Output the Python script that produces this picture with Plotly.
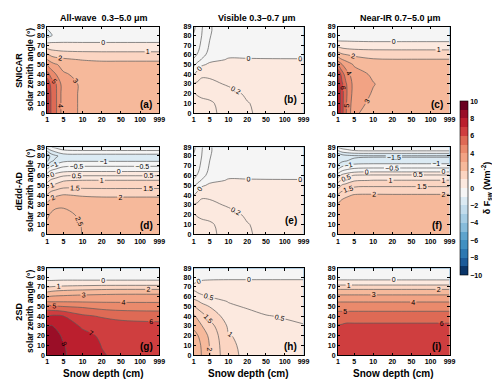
import numpy as np
import plotly.graph_objects as go

# grid the fluxes were read on
depth = [1, 2, 3, 5, 10, 20, 50, 999]          # snow depth (cm)
sza = [0, 10, 20, 30, 40, 50, 55, 60, 65, 70, 75, 80, 85, 89]  # solar zenith angle (deg)

# x axis is a stretched index scale: tick depths and where they sit on it
tick_depth = [1, 5, 10, 20, 50, 100, 999]
tick_pos = [0, 0.85, 1.85, 2.85, 3.85, 4.85, 5.85]
sza_ticks = [0, 10, 20, 30, 40, 50, 60, 70, 80, 89]

col_titles = ["All-wave  0.3\u20135.0 \u03bcm", "Visible 0.3\u20130.7 \u03bcm", "Near-IR 0.7\u20135.0 \u03bcm"]
row_names = ["SNICAR", "dEdd-AD", "2SD"]
panel_tags = ["(a)", "(b)", "(c)", "(d)", "(e)", "(f)", "(g)", "(h)", "(i)"]

# delta F_sw (W m-2); rows follow sza, columns follow depth
snicar_all = [
    [7.6, 5.9, 5.3, 3.43, 2.85, 2.6, 2.6, 2.6],
    [7.6, 5.9, 5.3, 3.43, 2.85, 2.6, 2.6, 2.6],
    [7.3, 5.9, 5.3, 3.43, 2.85, 2.6, 2.6, 2.6],
    [6.8, 5.7, 5.2, 3.45, 2.85, 2.6, 2.6, 2.6],
    [5.5, 4.6, 4.1, 3.1, 2.75, 2.6, 2.6, 2.6],
    [3.9, 3.4, 3.1, 2.75, 2.5, 2.35, 2.35, 2.35],
    [3.05, 2.6, 2.4, 2.2, 1.95, 1.85, 1.85, 1.85],
    [2.2, 1.8, 1.6, 1.5, 1.4, 1.35, 1.35, 1.35],
    [1.2, 1.02, 0.95, 0.85, 0.8, 0.8, 0.8, 0.8],
    [0.5, 0.35, 0.3, 0.27, 0.25, 0.25, 0.25, 0.25],
    [-0.6, -0.3, -0.25, -0.2, -0.2, -0.2, -0.2, -0.2],
    [-1.3, -1.1, -0.7, -0.55, -0.5, -0.5, -0.5, -0.5],
    [-1.1, -0.85, -0.7, -0.65, -0.65, -0.65, -0.65, -0.65],
    [-0.8, -0.75, -0.7, -0.7, -0.7, -0.7, -0.7, -0.7],
]
snicar_vis = [
    [0.55, 0.51, 0.48, 0.45, 0.32, 0.225, 0.14, 0.12],
    [0.5, 0.47, 0.45, 0.43, 0.31, 0.21, 0.14, 0.12],
    [0.41, 0.38, 0.36, 0.34, 0.27, 0.17, 0.12, 0.1],
    [0.21, 0.24, 0.25, 0.25, 0.176, 0.13, 0.1, 0.09],
    [-0.01, 0.08, 0.17, 0.16, 0.13, 0.1, 0.075, 0.07],
    [-0.25, -0.12, -0.03, 0.03, 0.04, 0.04, 0.035, 0.03],
    [-0.38, -0.28, -0.18, -0.04, 0.01, 0.008, 0.006, 0.005],
    [-0.45, -0.38, -0.28, -0.12, -0.02, -0.02, -0.02, -0.02],
    [-0.5, -0.43, -0.33, -0.16, -0.035, -0.04, -0.04, -0.04],
    [-0.53, -0.46, -0.36, -0.18, -0.05, -0.05, -0.05, -0.05],
    [-0.56, -0.48, -0.38, -0.2, -0.05, -0.05, -0.05, -0.05],
    [-0.58, -0.5, -0.4, -0.21, -0.05, -0.05, -0.05, -0.05],
    [-0.62, -0.52, -0.41, -0.22, -0.05, -0.05, -0.05, -0.05],
    [-0.64, -0.53, -0.42, -0.22, -0.05, -0.05, -0.05, -0.05],
]
snicar_nir = [
    [7.9, 6.35, 5.05, 3.11, 2.7, 2.65, 2.65, 2.65],
    [7.9, 6.4, 5.1, 3.3, 2.8, 2.65, 2.65, 2.65],
    [7.9, 6.4, 5.2, 3.5, 2.92, 2.65, 2.65, 2.65],
    [7.7, 6.2, 5.1, 3.6, 3.04, 2.65, 2.65, 2.65],
    [7.05, 5.5, 4.5, 3.4, 2.85, 2.65, 2.65, 2.65],
    [5.05, 4.05, 3.5, 2.9, 2.45, 2.4, 2.4, 2.4],
    [3.6, 3.05, 2.8, 2.5, 2.1, 2.05, 2.05, 2.05],
    [2.6, 2.2, 2.05, 1.8, 1.6, 1.55, 1.55, 1.55],
    [1.6, 1.3, 1.2, 1.1, 1.03, 1.02, 1.02, 1.02],
    [0.7, 0.55, 0.5, 0.45, 0.4, 0.4, 0.4, 0.4],
    [-0.1, -0.1, -0.1, -0.12, -0.15, -0.15, -0.15, -0.15],
    [-0.5, -0.45, -0.45, -0.45, -0.45, -0.45, -0.45, -0.45],
    [-0.55, -0.55, -0.55, -0.55, -0.55, -0.55, -0.55, -0.55],
    [-0.6, -0.6, -0.6, -0.6, -0.6, -0.6, -0.6, -0.6],
]
dedd_all = [
    [2.62, 2.62, 2.61, 2.6, 2.495, 2.42, 2.4, 2.4],
    [2.56, 2.6, 2.6, 2.59, 2.49, 2.42, 2.4, 2.4],
    [2.44, 2.55, 2.57, 2.56, 2.46, 2.41, 2.4, 2.4],
    [2.15, 2.35, 2.45, 2.47, 2.38, 2.34, 2.33, 2.33],
    [1.55, 1.8, 1.92, 2.03, 1.95, 1.92, 1.92, 1.92],
    [0.75, 1.02, 1.1, 1.3, 1.3, 1.3, 1.3, 1.3],
    [0.3, 0.6, 0.7, 0.95, 1.02, 1.02, 1.02, 1.02],
    [-0.25, 0.1, 0.25, 0.45, 0.48, 0.48, 0.48, 0.48],
    [-0.8, -0.45, -0.35, -0.15, -0.1, -0.1, -0.1, -0.1],
    [-1.4, -1.02, -0.85, -0.6, -0.55, -0.55, -0.55, -0.55],
    [-2.1, -1.6, -1.4, -1.1, -1.05, -1.05, -1.05, -1.05],
    [-2.4, -1.8, -1.6, -1.3, -1.25, -1.25, -1.25, -1.25],
    [-1.5, -1.1, -0.9, -0.6, -0.55, -0.55, -0.55, -0.55],
    [-0.8, -0.52, -0.4, -0.25, -0.2, -0.2, -0.2, -0.2],
]
dedd_vis = snicar_vis  # panel (e) reads the same as (b)
dedd_nir = [
    [2.42, 2.45, 2.45, 2.45, 2.42, 2.4, 2.4, 2.4],
    [2.42, 2.45, 2.45, 2.45, 2.42, 2.4, 2.4, 2.4],
    [2.35, 2.42, 2.44, 2.44, 2.41, 2.4, 2.4, 2.4],
    [2.08, 2.25, 2.32, 2.38, 2.36, 2.35, 2.35, 2.35],
    [1.55, 1.8, 1.9, 2.04, 2.06, 2.05, 2.05, 2.05],
    [0.75, 1.05, 1.15, 1.38, 1.42, 1.42, 1.42, 1.42],
    [0.3, 0.6, 0.7, 0.95, 1.02, 1.02, 1.02, 1.02],
    [-0.2, 0.15, 0.3, 0.55, 0.6, 0.6, 0.6, 0.6],
    [-0.85, -0.52, -0.4, -0.25, -0.2, -0.2, -0.2, -0.2],
    [-1.4, -1.1, -0.95, -0.8, -0.75, -0.75, -0.75, -0.75],
    [-1.9, -1.6, -1.52, -1.4, -1.35, -1.35, -1.35, -1.35],
    [-1.95, -1.75, -1.65, -1.58, -1.55, -1.55, -1.55, -1.55],
    [-1.1, -0.8, -0.7, -0.55, -0.52, -0.52, -0.52, -0.52],
    [-0.45, -0.3, -0.25, -0.18, -0.15, -0.15, -0.15, -0.15],
]
tsd_all = [
    [8.9, 8.8, 8.6, 8.1, 7.5, 7.05, 6.85, 6.7],
    [8.8, 8.7, 8.5, 8.05, 7.4, 6.98, 6.8, 6.7],
    [8.6, 8.5, 8.3, 7.85, 7.2, 6.9, 6.75, 6.65],
    [7.95, 8.05, 7.9, 7.4, 6.9, 6.6, 6.4, 6.3],
    [6.95, 7.15, 7.2, 7.02, 6.2, 5.9, 5.7, 5.6],
    [5.4, 5.2, 5.1, 4.98, 4.85, 4.6, 4.5, 4.45],
    [3.95, 3.95, 3.95, 3.95, 3.92, 3.9, 3.9, 3.9],
    [2.97, 3.1, 3.15, 3.2, 3.3, 3.35, 3.4, 3.4],
    [1.97, 2.1, 2.2, 2.3, 2.45, 2.55, 2.6, 2.6],
    [0.97, 1.05, 1.1, 1.2, 1.3, 1.38, 1.4, 1.4],
    [0.15, 0.15, 0.17, 0.2, 0.2, 0.2, 0.2, 0.2],
    [-0.3, -0.3, -0.3, -0.3, -0.3, -0.3, -0.3, -0.3],
    [-0.6, -0.5, -0.5, -0.5, -0.5, -0.5, -0.5, -0.5],
    [-0.6, -0.5, -0.5, -0.5, -0.5, -0.5, -0.5, -0.5],
]
tsd_vis = [
    [2.9, 2.7, 2.48, 2.02, 1.1, 0.92, 0.8, 0.75],
    [2.85, 2.65, 2.45, 1.98, 1.08, 0.9, 0.78, 0.74],
    [2.65, 2.52, 2.3, 1.9, 1.03, 0.87, 0.76, 0.72],
    [2.4, 2.2, 2.02, 1.7, 0.93, 0.82, 0.68, 0.52],
    [2.08, 1.9, 1.7, 1.35, 0.75, 0.66, 0.52, 0.42],
    [1.55, 1.35, 1.2, 0.98, 0.58, 0.45, 0.36, 0.3],
    [1.1, 1.05, 0.9, 0.75, 0.48, 0.4, 0.32, 0.28],
    [0.9, 0.72, 0.6, 0.48, 0.4, 0.33, 0.28, 0.25],
    [0.6, 0.45, 0.38, 0.32, 0.28, 0.25, 0.23, 0.22],
    [0.22, 0.2, 0.2, 0.18, 0.17, 0.16, 0.15, 0.15],
    [-0.1, 0.02, 0.06, 0.08, 0.08, 0.08, 0.08, 0.08],
    [-0.2, -0.15, -0.12, -0.1, -0.08, -0.08, -0.08, -0.08],
    [-0.25, -0.2, -0.18, -0.15, -0.15, -0.15, -0.15, -0.15],
    [-0.3, -0.25, -0.22, -0.2, -0.2, -0.2, -0.2, -0.2],
]
tsd_nir = [
    [6.6, 6.6, 6.6, 6.6, 6.6, 6.6, 6.6, 6.6],
    [6.6, 6.6, 6.6, 6.6, 6.6, 6.6, 6.6, 6.6],
    [6.55, 6.55, 6.55, 6.55, 6.55, 6.55, 6.55, 6.55],
    [6.05, 6.1, 6.2, 6.2, 6.2, 6.2, 6.2, 6.2],
    [5.5, 5.5, 5.5, 5.5, 5.5, 5.5, 5.5, 5.5],
    [4.5, 4.5, 4.5, 4.5, 4.5, 4.5, 4.5, 4.5],
    [3.95, 3.95, 3.95, 3.95, 3.95, 3.95, 3.95, 3.95],
    [3.3, 3.3, 3.3, 3.3, 3.3, 3.3, 3.3, 3.3],
    [2.5, 2.5, 2.5, 2.5, 2.5, 2.5, 2.5, 2.5],
    [1.5, 1.5, 1.5, 1.5, 1.5, 1.5, 1.5, 1.5],
    [0.25, 0.25, 0.25, 0.25, 0.25, 0.25, 0.25, 0.25],
    [-0.3, -0.3, -0.3, -0.3, -0.3, -0.3, -0.3, -0.3],
    [-0.5, -0.5, -0.5, -0.5, -0.5, -0.5, -0.5, -0.5],
    [-0.5, -0.5, -0.5, -0.5, -0.5, -0.5, -0.5, -0.5],
]

panels = [snicar_all, snicar_vis, snicar_nir,
          dedd_all, dedd_vis, dedd_nir,
          tsd_all, tsd_vis, tsd_nir]
# spacing of the labelled contour lines in each panel
line_step = [1, 0.2, 1, 0.5, 0.2, 0.5, 1, 0.5, 1]

# one colour per 1 W m-2 band, -10 .. 10
band_colors = [
    "#0a3569", "#1b5b9a", "#2c78b2", "#4090c2", "#5fa4cd",
    "#87bcdb", "#a6cde4", "#c2dcec", "#dbeaf3", "#f5f5f5",
    "#fce9df", "#fbd5c2", "#f6b99b", "#f2a384", "#ea8a6c",
    "#de6a55", "#cf3e3f", "#bb1f2e", "#9a0e27", "#6a0020",
]

W, H = 500, 380
FONT = "Liberation Sans, Arial, sans-serif"
col_px = [(37.7, 151.7), (186.7, 298.3), (333.3, 446.7)]
row_px = [(15, 103), (137.7, 226.5), (261.3, 349.5)]

xpos = np.interp(depth, tick_depth, tick_pos)


def stepped_scale(colors):
    n = len(colors) + 1
    scale = [[0, colors[0]]]
    for i, c in enumerate(colors):
        scale.append([(i + 0.5) / n, c])
        scale.append([(i + 1.5) / n, c])
    scale.append([1, colors[-1]])
    return scale


def label(text, x, y, size, angle=0):
    return dict(text=text, x=x / W, y=1 - y / H, xref="paper", yref="paper",
                xanchor="center", yanchor="middle", showarrow=False, textangle=angle,
                font=dict(size=size, family=FONT, color="black"))


cscale = stepped_scale(band_colors)
fig = go.Figure()
ann = []
layout_axes = {}

for k, z in enumerate(panels):
    r, c = divmod(k, 3)
    n = k + 1
    xa, ya = ("x", "y") if n == 1 else (f"x{n}", f"y{n}")
    fig.add_trace(go.Contour(
        x=xpos, y=sza, z=z, xaxis=xa, yaxis=ya,
        colorscale=cscale, zmin=-10, zmax=10, autocontour=False,
        contours=dict(start=-10, end=10, size=1, coloring="fill", showlines=False),
        line=dict(width=0), hoverinfo="skip",
        showscale=(k == 2),
        colorbar=dict(
            x=457.7 / W, xanchor="left", xpad=0,
            y=1 - 268 / H, yanchor="bottom", ypad=0,
            len=177.3 / H, lenmode="fraction",
            thickness=7.5, thicknessmode="pixels",
            outlinewidth=0.6, outlinecolor="black",
            tickvals=list(range(-10, 11, 2)), ticks="",
            tickfont=dict(size=7, family=FONT, color="black", weight="bold"),
            title=dict(text="\u03b4 F<sub>sw</sub> (Wm<sup>-2</sup>)", side="right",
                       font=dict(size=9, family=FONT, color="black", weight="bold")),
        ),
    ))
    fig.add_trace(go.Contour(
        x=xpos, y=sza, z=z, xaxis=xa, yaxis=ya,
        autocontour=False, showscale=False, hoverinfo="skip",
        contours=dict(start=-5, end=10, size=line_step[k], coloring="none",
                      showlabels=True, labelformat=".1~f",
                      labelfont=dict(size=7, family=FONT, color="black")),
        line=dict(color="#5a5a5a", width=0.7),
    ))

    x0, x1 = col_px[c]
    y0, y1 = row_px[r]
    axis_style = dict(
        showline=True, linecolor="black", linewidth=0.8, mirror="ticks",
        ticks="inside", ticklen=2.5, tickwidth=0.6, tickcolor="black",
        showgrid=False, zeroline=False,
        tickfont=dict(size=7, family=FONT, color="black", weight="bold"),
    )
    layout_axes[f"xaxis{n}"] = dict(
        domain=[x0 / W, x1 / W], anchor=ya, range=[0, 5.85],
        tickvals=tick_pos, ticktext=[str(d) for d in tick_depth], **axis_style)
    layout_axes[f"yaxis{n}"] = dict(
        domain=[1 - y1 / H, 1 - y0 / H], anchor=xa, range=[0, 89],
        tickvals=sza_ticks, **axis_style)

    # panel letter in the lower right corner
    dy = 14 if c == 1 and r < 2 else 9
    ann.append(label(f"<b>{panel_tags[k]}</b>", x1 - 13, y1 - dy, 10))

title_x = [96, 250, 397]
for c, t in enumerate(col_titles):
    ann.append(label(f"<b>{t}</b>", title_x[c], 6.5, 9))
    x0, x1 = col_px[c]
    ann.append(label("<b>Snow depth (cm)</b>", (x0 + x1) / 2, 368, 10))

for r, name in enumerate(row_names):
    y0, y1 = row_px[r]
    yc = (y0 + y1) / 2
    ann.append(label(f"<b>{name}</b>", 9, yc, 9, -90))
    ann.append(label("<b>solar zenith angle (\u00b0)</b>", 20.5, yc, 8.5, -90))

fig.update_layout(
    width=W, height=H, margin=dict(l=0, r=0, t=0, b=0),
    paper_bgcolor="white", plot_bgcolor="white", showlegend=False,
    annotations=ann, **layout_axes,
)
fig.write_html("out.html")
